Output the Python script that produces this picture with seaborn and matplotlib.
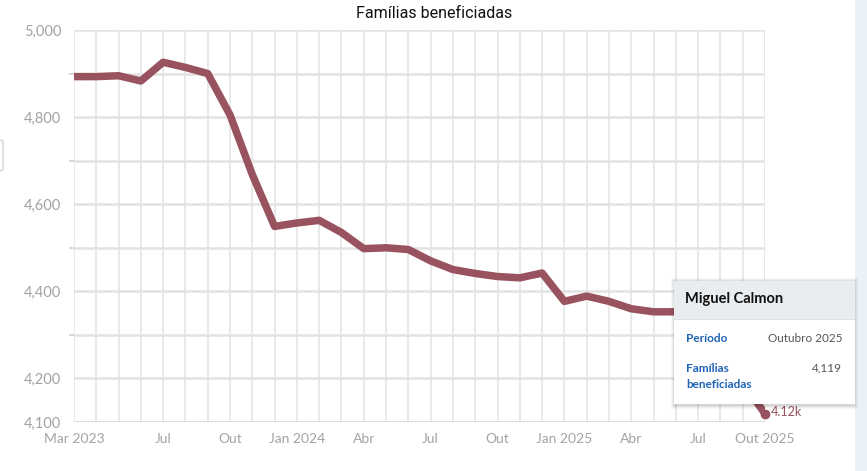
import matplotlib
matplotlib.use('Agg')
import matplotlib.pyplot as plt
import seaborn as sns
import pandas as pd
from matplotlib.patches import FancyBboxPatch, Rectangle

# dados (Mar 2023 .. Out 2025)
months = ['Mar 2023', 'Abr', 'Mai', 'Jun', 'Jul', 'Ago', 'Set', 'Out', 'Nov', 'Dez',
          'Jan 2024', 'Fev', 'Mar', 'Abr', 'Mai', 'Jun', 'Jul', 'Ago', 'Set', 'Out', 'Nov', 'Dez',
          'Jan 2025', 'Fev', 'Mar', 'Abr', 'Mai', 'Jun', 'Jul', 'Ago', 'Set', 'Out 2025']
familias = [4893, 4893, 4895, 4883, 4926, 4914, 4900, 4805, 4668, 4549,
            4557, 4563, 4535, 4498, 4500, 4496, 4470, 4450, 4441, 4434, 4431, 4442,
            4377, 4389, 4377, 4360, 4353, 4353, 4352, 4340, 4190, 4119]
shown_labels = {0: 'Mar 2023', 4: 'Jul', 7: 'Out', 10: 'Jan 2024', 13: 'Abr', 16: 'Jul',
                19: 'Out', 22: 'Jan 2025', 25: 'Abr', 28: 'Jul', 31: 'Out 2025'}
y_major = [4100, 4200, 4400, 4600, 4800, 5000]
y_minor = [4300, 4500, 4700, 4900]

df = pd.DataFrame({'idx': range(len(months)), 'mes': months, 'familias': familias})

sns.set_theme(style='white')
plt.rcParams['font.family'] = ['Lato', 'DejaVu Sans']

LINE = '#98535f'
GRID = '#e3e3e3'
TICK = '#a3a3a3'

fig = plt.figure(figsize=(8.67, 4.71), dpi=100)
fig.patch.set_facecolor('white')
# faixa azul clara à direita
fig.add_artist(Rectangle((855 / 867, 0), 12 / 867, 1, transform=fig.transFigure,
                         facecolor='#eaf1f9', edgecolor='none'))

ax = fig.add_axes([74 / 867, 1 - 422 / 471, 691 / 867, 392 / 471])
ax.set_facecolor('white')

sns.lineplot(data=df, x='idx', y='familias', ax=ax, color=LINE, linewidth=5.4,
             solid_joinstyle='round', solid_capstyle='round', zorder=3)
ax.plot(df['idx'].iloc[-1], df['familias'].iloc[-1], 'o', color=LINE, markersize=6,
        zorder=4, clip_on=False)
ax.text(df['idx'].iloc[-1] + 0.25, df['familias'].iloc[-1] + 4, '4.12k', color=LINE,
        fontsize=9, va='center', ha='left', clip_on=False)

ax.set_xlim(0, len(months) - 1)
ax.set_ylim(4100, 5000)
ax.set_xticks(df['idx'])
ax.set_xticklabels([shown_labels.get(i, '') for i in df['idx']])
ax.set_yticks(y_major)
ax.set_yticklabels([f'{v:,}' for v in y_major])
ax.set_yticks(y_minor, minor=True)

ax.grid(True, axis='x', color=GRID, linewidth=1.1, zorder=0)
ax.grid(True, axis='y', which='both', color=GRID, linewidth=1.8, zorder=0)
ax.set_axisbelow(True)
for s in ax.spines.values():
    s.set_visible(False)
ax.tick_params(axis='x', length=5, width=1, color='#cfcfcf', labelcolor=TICK,
               labelsize=10, pad=3)
ax.tick_params(axis='y', which='major', length=7, width=1.2, color='#cfcfcf',
               labelcolor=TICK, labelsize=10.5, pad=2)
ax.tick_params(axis='y', which='minor', length=3.5, width=1.2, color='#cfcfcf', left=True)
ax.axhline(4100, color='#d9d9d9', linewidth=1.8, zorder=1)
ax.set_xlabel('')
ax.set_ylabel('')

fig.text(434 / 867, 1 - 14 / 471, 'Famílias beneficiadas', ha='center', va='center',
         fontsize=11.5, color='#111111', family=['Roboto', 'DejaVu Sans'])

# sobras da interface à esquerda
fig.add_artist(FancyBboxPatch((-4 / 867, 1 - 171 / 471), 7 / 867, 31 / 471,
                              boxstyle='round,pad=0,rounding_size=0.004',
                              transform=fig.transFigure, facecolor='white',
                              edgecolor='#c8c8c8', linewidth=0.8))
fig.add_artist(Rectangle((0, 1 - 98 / 471), 10 / 867, 0.5 / 471, transform=fig.transFigure,
                         facecolor='#d0d0d0', edgecolor='none'))

# tooltip
tx0, ty0, tw, th = 674, 281, 181, 123
for k, a in enumerate([0.05, 0.05, 0.04, 0.03]):
    d = k + 1
    fig.add_artist(Rectangle(((tx0 - d + 1) / 867, 1 - (ty0 + th + d + 1) / 471),
                             (tw + 2 * d - 2) / 867, (th + 2 * d) / 471,
                             transform=fig.transFigure, facecolor='black', alpha=a,
                             edgecolor='none', zorder=9))
fig.add_artist(Rectangle((tx0 / 867, 1 - (ty0 + th) / 471), tw / 867, th / 471,
                         transform=fig.transFigure, facecolor='white', edgecolor='none',
                         zorder=10))
fig.add_artist(Rectangle((tx0 / 867, 1 - 319 / 471), tw / 867, 38 / 471,
                         transform=fig.transFigure, facecolor='#eaedf0', edgecolor='none',
                         zorder=11))
fig.add_artist(Rectangle((tx0 / 867, 1 - 320 / 471), tw / 867, 1 / 471,
                         transform=fig.transFigure, facecolor='#dde1e5', edgecolor='none',
                         zorder=11))
BLUE = '#1f63b5'
fig.text(685 / 867, 1 - 299 / 471, 'Miguel Calmon', fontsize=10.5, fontweight='bold',
         color='#111111', va='center', ha='left', zorder=12)
fig.text(686 / 867, 1 - 339 / 471, 'Período', fontsize=8.5, fontweight='bold', color=BLUE,
         va='center', ha='left', zorder=12)
fig.text(842 / 867, 1 - 339 / 471, 'Outubro 2025', fontsize=8.5, color='#555555',
         va='center', ha='right', zorder=12)
fig.text(686 / 867, 1 - 368 / 471, 'Famílias', fontsize=8.5, fontweight='bold', color=BLUE,
         va='center', ha='left', zorder=12)
fig.text(686 / 867, 1 - 385 / 471, 'beneficiadas', fontsize=8.5, fontweight='bold',
         color=BLUE, va='center', ha='left', zorder=12)
fig.text(842 / 867, 1 - 368 / 471, f"{familias[-1]:,}", fontsize=8.5, color='#555555',
         va='center', ha='right', zorder=12)

fig.savefig('out.png', dpi=100, facecolor=fig.get_facecolor())
